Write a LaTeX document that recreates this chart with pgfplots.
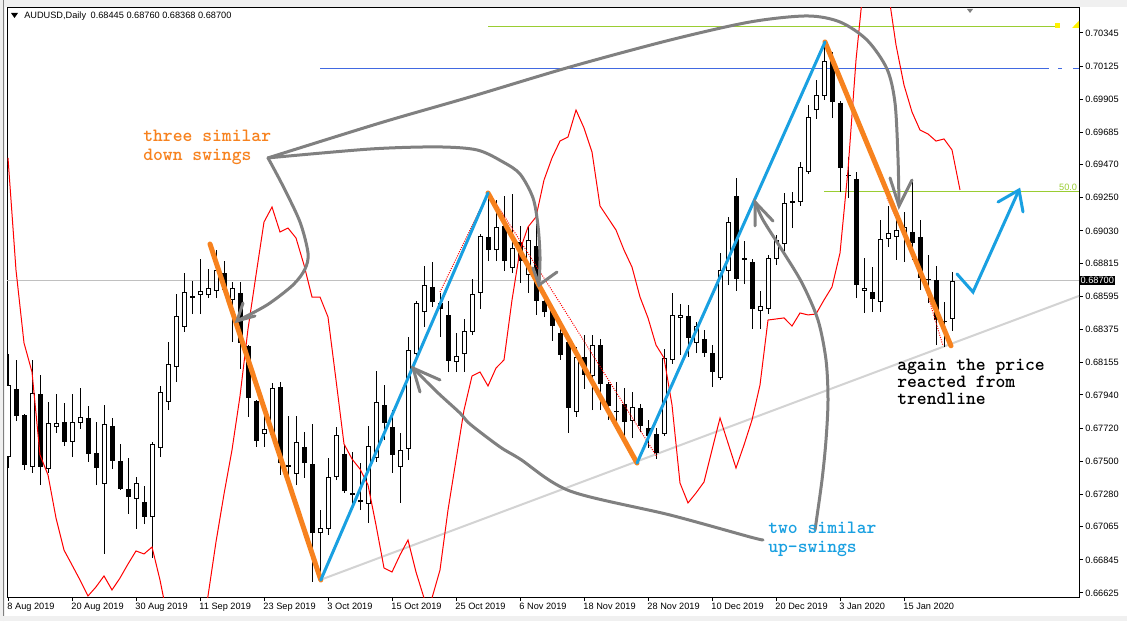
\documentclass[border=0pt]{standalone}
\usepackage{fontspec}
\setmainfont{Liberation Sans}
\usepackage{pgfplots}
\usepackage{pgfplotstable}
\pgfplotsset{compat=1.18}

\definecolor{swingorange}{RGB}{247,130,30}
\definecolor{swingblue}{RGB}{25,160,225}
\definecolor{arrowgray}{RGB}{128,128,128}
\definecolor{lvlgreen}{RGB}{154,205,50}
\definecolor{lvlblue}{RGB}{65,105,225}
\definecolor{trendgray}{RGB}{211,211,211}
\definecolor{pricegray}{RGB}{192,192,192}
\definecolor{chrome}{RGB}{240,240,240}

% daily candles AUDUSD, index 0 = 8 Aug 2019
\pgfplotstableread{
i o h l c
0 0.67528 0.68212 0.67455 0.68007
1 0.67980 0.68173 0.67767 0.67801
2 0.67807 0.67814 0.67442 0.67475
3 0.67462 0.68173 0.67422 0.67953
4 0.67947 0.68073 0.67342 0.67462
5 0.67448 0.67894 0.67422 0.67754
6 0.67727 0.67947 0.67688 0.67754
7 0.67761 0.67887 0.67601 0.67628
8 0.67628 0.67947 0.67528 0.67761
9 0.67754 0.67987 0.67714 0.67794
10 0.67787 0.67867 0.67495 0.67548
11 0.67555 0.67761 0.67342 0.67455
12 0.67349 0.67874 0.66884 0.67747
13 0.67734 0.67787 0.67448 0.67502
14 0.67502 0.67615 0.67309 0.67316
15 0.67316 0.67522 0.67150 0.67262
16 0.67249 0.67395 0.67050 0.67356
17 0.67229 0.67336 0.67083 0.67130
18 0.67130 0.67628 0.66857 0.67615
19 0.67588 0.68000 0.67528 0.67960
20 0.67894 0.68292 0.67840 0.68146
21 0.68126 0.68611 0.68026 0.68465
22 0.68392 0.68750 0.68359 0.68624
23 0.68584 0.68697 0.68478 0.68598
24 0.68604 0.68844 0.68478 0.68631
25 0.68604 0.68777 0.68584 0.68651
26 0.68631 0.68903 0.68584 0.68770
27 0.68750 0.68830 0.68624 0.68638
28 0.68571 0.68691 0.68292 0.68651
29 0.68618 0.68691 0.68113 0.68286
30 0.68266 0.68272 0.67794 0.67920
31 0.67900 0.67905 0.67595 0.67635
32 0.67681 0.67807 0.67595 0.67714
33 0.67674 0.68020 0.67641 0.67987
34 0.67993 0.68026 0.67409 0.67488
35 0.67475 0.67801 0.67409 0.67462
36 0.67415 0.67801 0.67342 0.67628
37 0.67595 0.67694 0.67389 0.67488
38 0.67482 0.67747 0.66698 0.67023
39 0.67023 0.67176 0.66698 0.67057
40 0.67050 0.67522 0.67010 0.67395
41 0.67395 0.67727 0.67375 0.67674
42 0.67548 0.67608 0.67289 0.67302
43 0.67289 0.67561 0.67209 0.67276
44 0.67243 0.67488 0.67176 0.67229
45 0.67216 0.67734 0.67090 0.67601
46 0.67522 0.68100 0.67495 0.67894
47 0.67874 0.68007 0.67641 0.67754
48 0.67727 0.67840 0.67422 0.67542
49 0.67462 0.67688 0.67223 0.67575
50 0.67581 0.68325 0.67508 0.68239
51 0.68212 0.68565 0.68173 0.68551
52 0.68491 0.68797 0.68392 0.68671
53 0.68658 0.68824 0.68525 0.68558
54 0.68551 0.68618 0.68325 0.68511
55 0.68472 0.68565 0.68093 0.68166
56 0.68159 0.68352 0.68093 0.68199
57 0.68212 0.68445 0.68093 0.68365
58 0.68359 0.68711 0.68339 0.68611
59 0.68618 0.69010 0.68511 0.68996
60 0.68990 0.69269 0.68830 0.68903
61 0.68903 0.69235 0.68830 0.69056
62 0.69063 0.69262 0.68764 0.68830
63 0.68784 0.69275 0.68750 0.68917
64 0.68956 0.69063 0.68684 0.68830
65 0.68737 0.69063 0.68618 0.68970
66 0.68930 0.69116 0.68472 0.68565
67 0.68565 0.68631 0.68458 0.68491
68 0.68498 0.68538 0.68299 0.68398
69 0.68352 0.68392 0.68173 0.68206
70 0.68292 0.68345 0.67688 0.67854
71 0.67827 0.68259 0.67794 0.68193
72 0.68193 0.68339 0.67980 0.68073
73 0.68066 0.68339 0.67840 0.68272
74 0.68272 0.68312 0.67840 0.68013
75 0.68013 0.68026 0.67774 0.67867
76 0.67834 0.68026 0.67734 0.67827
77 0.67880 0.67987 0.67668 0.67761
78 0.67767 0.67960 0.67654 0.67860
79 0.67854 0.67880 0.67694 0.67734
80 0.67721 0.67774 0.67588 0.67668
81 0.67681 0.67721 0.67515 0.67555
82 0.67681 0.68246 0.67668 0.68186
83 0.68173 0.68618 0.68146 0.68472
84 0.68452 0.68545 0.68206 0.68472
85 0.68465 0.68538 0.68193 0.68319
86 0.68286 0.68425 0.68219 0.68398
87 0.68312 0.68372 0.68193 0.68219
88 0.68219 0.68272 0.67993 0.68093
89 0.68053 0.68883 0.68040 0.68770
90 0.68764 0.69123 0.68671 0.69089
91 0.69262 0.69382 0.68631 0.68711
92 0.68837 0.68963 0.68677 0.68850
93 0.68824 0.68844 0.68378 0.68511
94 0.68498 0.68631 0.68378 0.68531
95 0.68511 0.68870 0.68478 0.68850
96 0.68844 0.69003 0.68804 0.68970
97 0.68943 0.69282 0.68897 0.69216
98 0.69216 0.69289 0.69049 0.69229
99 0.69222 0.69488 0.69196 0.69455
100 0.69421 0.69867 0.69408 0.69787
101 0.69833 0.70033 0.69774 0.69933
102 0.69926 0.70298 0.69900 0.70159
103 0.70165 0.70219 0.69780 0.69886
104 0.69880 0.69893 0.69289 0.69448
105 0.69402 0.69521 0.69249 0.69395
106 0.69375 0.69421 0.68584 0.68671
107 0.68631 0.68850 0.68485 0.68651
108 0.68624 0.68790 0.68491 0.68578
109 0.68558 0.69103 0.68491 0.68976
110 0.68976 0.69196 0.68923 0.69016
111 0.68990 0.69156 0.68837 0.69036
112 0.69010 0.69156 0.68824 0.69056
113 0.69023 0.69355 0.68837 0.68950
114 0.68990 0.69103 0.68638 0.68717
115 0.68711 0.68870 0.68551 0.68704
116 0.68704 0.68797 0.68272 0.68438
117 0.68432 0.68558 0.68259 0.68425
118 0.68445 0.68760 0.68368 0.68700
}\candles

% red band, pieces that stay on screen
\pgfplotstableread{
i p
0 0.69515
1 0.68770
2 0.68286
3 0.68093
4 0.67542
5 0.67409
6 0.67123
7 0.66910
8 0.66811
9 0.66711
10 0.66605
11 0.66665
12 0.66738
13 0.66645
14 0.66724
15 0.66817
16 0.66904
17 0.66884
18 0.66930
19 0.66711
20 0.66445
}\bandA

\pgfplotstableread{
i p
24 0.66313
25 0.66605
26 0.66964
27 0.67282
28 0.67575
29 0.67933
30 0.68378
31 0.68737
32 0.69089
33 0.69189
34 0.69023
35 0.69049
36 0.68983
37 0.68804
38 0.68591
39 0.68591
40 0.68458
41 0.68040
42 0.67615
43 0.67515
44 0.67448
45 0.67342
46 0.67076
47 0.66791
48 0.66764
49 0.66877
50 0.66977
51 0.66764
52 0.66592
53 0.66313
}\bandB

\pgfplotstableread{
i p
52 0.66313
53 0.66592
54 0.66778
55 0.67176
56 0.67508
57 0.67840
58 0.68066
59 0.68093
60 0.68000
61 0.68119
62 0.68173
63 0.68571
64 0.68903
65 0.69056
66 0.69123
67 0.69368
68 0.69515
69 0.69627
70 0.69654
71 0.69833
72 0.69714
73 0.69554
74 0.69196
75 0.69116
76 0.69036
77 0.68903
78 0.68790
79 0.68591
80 0.68452
81 0.68272
82 0.68186
83 0.67874
84 0.67355
85 0.67223
86 0.67289
87 0.67362
88 0.67575
89 0.67787
90 0.67621
91 0.67455
92 0.67608
93 0.67774
94 0.68007
95 0.68438
96 0.68445
97 0.68452
98 0.68398
99 0.68485
100 0.68472
101 0.68478
102 0.68571
103 0.68658
104 0.68883
105 0.69435
106 0.70165
107 0.70697
}\bandC

\pgfplotstableread{
i p
110 0.70630
111 0.70265
112 0.69999
113 0.69820
114 0.69700
115 0.69674
116 0.69627
117 0.69641
118 0.69568
119 0.69302
}\bandD

\tikzset{note/.style={anchor=base west, inner sep=0pt, font=\fontsize{14.05}{15}\ttfamily\bfseries}}

\begin{document}
\begin{tikzpicture}
\path[use as bounding box, fill=white] (0,0) rectangle (845.25pt,465.75pt);
% terminal window rim
\fill[chrome] (0,460.5pt) rectangle (845.25pt,465.75pt);
\fill[chrome] (0,0) rectangle (3.75pt,465.75pt);
\draw[gray, line width=0.75pt] (2.25pt,0) -- (2.25pt,465.75pt);
\fill[chrome] (0,0) rectangle (845.25pt,3.75pt);

\begin{axis}[
  at={(5.25pt,18pt)}, anchor=south west,
  scale only axis, width=804pt, height=441.75pt,
  xmin=-0.125, xmax=133.875, ymin=0.665981, ymax=0.705109,
  clip mode=individual,
  axis line style={black, line width=0.75pt},
  tick style={black, line width=0.75pt},
  tick align=outside, major tick length=3pt,
  xtick pos=bottom, ytick pos=right,
  scaled y ticks=false,
  tick label style={font=\fontsize{6.9}{8}\selectfont, inner sep=0pt},
  xtick={0,8,16,24,32,40,48,56,64,72,80,88,96,104,112},
  xticklabels={8 Aug 2019,20 Aug 2019,30 Aug 2019,11 Sep 2019,23 Sep 2019,3 Oct 2019,15 Oct 2019,25 Oct 2019,6 Nov 2019,18 Nov 2019,28 Nov 2019,10 Dec 2019,20 Dec 2019,3 Jan 2020,15 Jan 2020},
  xticklabel style={anchor=north west, xshift=-0.6pt, yshift=-1pt},
  ytick={0.70345,0.70125,0.69905,0.69685,0.69470,0.69250,0.69030,0.68815,0.68595,0.68375,0.68155,0.67940,0.67720,0.67500,0.67280,0.67065,0.66845,0.66625},
  yticklabels={0.70345,0.70125,0.69905,0.69685,0.69470,0.69250,0.69030,0.68815,0.68595,0.68375,0.68155,0.67940,0.67720,0.67500,0.67280,0.67065,0.66845,0.66625},
  yticklabel style={anchor=west, xshift=1.6pt},
]
% level lines
\addplot[pricegray, line width=0.75pt] coordinates {(-0.125,0.68700) (133.875,0.68700)};
\addplot[lvlgreen, line width=0.75pt] coordinates {(60,0.70388) (131,0.70388)};
\addplot[lvlblue, line width=0.75pt] coordinates {(39,0.70112) (130.125,0.70112)};
\addplot[lvlblue, line width=0.75pt] coordinates {(131.25,0.70112) (131.75,0.70112)};
\addplot[lvlblue, line width=0.75pt] coordinates {(133.125,0.70112) (133.875,0.70112)};
\addplot[lvlgreen, line width=0.75pt] coordinates {(102,0.69289) (133.875,0.69289)};
\addplot[fill=yellow, draw=none] coordinates {(130.875,0.70378) (131.5,0.70378) (131.5,0.70411) (130.875,0.70411)} -- cycle;
\addplot[fill=yellow, draw=none] coordinates {(133.0,0.70378) (133.875,0.70378) (133.875,0.70425)} -- cycle;
% trend line
\addplot[trendgray, line width=1.5pt] coordinates {(39,0.66711) (133.875,0.68598)};

% candles: wicks, bodies, hollow centres of up days
\addplot[draw=none, mark=none, forget plot,
  error bars/.cd, y dir=plus, y explicit, error mark=none,
  error bar style={draw=black, solid, line width=0.75pt}]
  table[x=i, y=l, y error expr=\thisrow{h}-\thisrow{l}] {\candles};
\addplot[draw=none, mark=none, forget plot,
  error bars/.cd, y dir=plus, y explicit, error mark=none,
  error bar style={draw=black, solid, line width=3.75pt}]
  table[x=i, y expr={min(\thisrow{o},\thisrow{c})},
        y error expr={max(abs(\thisrow{c}-\thisrow{o}),0.00007)}] {\candles};
\addplot[draw=none, mark=none, forget plot,
  error bars/.cd, y dir=plus, y explicit, error mark=none,
  error bar style={draw=white, solid, line width=2.25pt}]
  table[x=i, y expr={\thisrow{o}+0.00007},
        y error expr={max(\thisrow{c}-\thisrow{o}-0.00014,0)}] {\candles};

% red bands
\addplot[red, line width=0.75pt] table[x=i, y=p] {\bandA};
\addplot[red, line width=0.75pt] table[x=i, y=p] {\bandB};
\addplot[red, line width=0.75pt] table[x=i, y=p] {\bandC};
\addplot[red, line width=0.75pt] table[x=i, y=p] {\bandD};

% dotted zigzag
\addplot[red, line width=0.75pt, densely dotted] coordinates {(54,0.68624) (59.875,0.69269)};
\addplot[red, line width=0.75pt, densely dotted] coordinates {(60.5,0.69255) (69,0.68551) (81.125,0.67528)};
\addplot[red, line width=0.75pt, densely dotted] coordinates {(109.875,0.69249) (114,0.68777) (116.875,0.68266)};

% swings
\addplot[swingorange, line width=3.75pt, line cap=round] coordinates {(25.25,0.68943) (39.1,0.66711)};
\addplot[swingorange, line width=3.75pt, line cap=round] coordinates {(60,0.69282) (78.625,0.67488)};
\addplot[swingorange, line width=3.75pt, line cap=round] coordinates {(102.125,0.70285) (117.875,0.68266)};
\addplot[swingblue, line width=2.25pt, line cap=round] coordinates {(39.1,0.66711) (60,0.69282)};
\addplot[swingblue, line width=2.25pt, line cap=round] coordinates {(78.625,0.67488) (102.125,0.70285)};
\addplot[swingblue, line width=2.25pt, line cap=round] coordinates {(118.625,0.68744) (120.625,0.68624) (126.375,0.69302)};
\addplot[swingblue, line width=2.25pt, line cap=round] coordinates {(123.75,0.69222) (126.375,0.69302) (126.875,0.69156)};

% grey connectors
\addplot[arrowgray, line width=2.25pt, smooth, line cap=round] coordinates {(32.5,0.69515) (34.375,0.69328) (36.5,0.69089) (37.5,0.68883) (37.125,0.68777) (35.625,0.68671) (32.375,0.68538) (28.625,0.68432)};
\addplot[arrowgray, line width=2.25pt, line cap=round] coordinates {(29.375,0.68551) (28.625,0.68432) (30.875,0.68465)};
\addplot[arrowgray, line width=2.25pt, smooth, line cap=round] coordinates {(32.5,0.69515) (45.25,0.69574) (53.625,0.69588) (58.625,0.69568) (61.875,0.69488) (64,0.69408) (65.625,0.69249) (66.25,0.69063) (66.5,0.68857) (66.375,0.68671)};
\addplot[arrowgray, line width=2.25pt, line cap=round] coordinates {(68.625,0.68757) (66.375,0.68671) (65.625,0.68784)};
\addplot[arrowgray, line width=2.25pt, smooth, line cap=round] coordinates {(32.5,0.69515) (46.5,0.69747) (57.75,0.69920) (70.25,0.70119) (82.75,0.70298) (92.75,0.70418) (99.875,0.70458) (104,0.70418) (107.375,0.70298) (109.875,0.70106) (110.875,0.69880) (111.25,0.69515) (111.375,0.69196)};
\addplot[arrowgray, line width=2.25pt, line cap=round] coordinates {(110.25,0.69382) (111.375,0.69196) (113,0.69368)};
\addplot[arrowgray, line width=2.25pt, smooth, line cap=round] coordinates {(94.375,0.66977) (92.75,0.66997) (82.75,0.67143) (70.25,0.67302) (64,0.67515) (61.5,0.67595) (57.75,0.67747) (56.5,0.67820) (53.625,0.67960) (50.625,0.68119)};
\addplot[arrowgray, line width=2.25pt, line cap=round] coordinates {(54,0.68040) (50.625,0.68119) (51.5,0.67960)};
\addplot[arrowgray, line width=2.25pt, smooth, line cap=round] coordinates {(100.875,0.67043) (101.75,0.67375) (102.25,0.67641) (102.5,0.67907) (102.25,0.68173) (101.25,0.68438) (99.25,0.68684) (96.75,0.68903) (94.375,0.69103) (93.375,0.69222)};
\addplot[arrowgray, line width=2.25pt, line cap=round] coordinates {(95.625,0.69096) (93.375,0.69222) (93.375,0.69063)};

% texts
\node[note, text=swingorange] at (axis cs:16.875,0.69621) {three similar};
\node[note, text=swingorange] at (axis cs:16.875,0.69501) {down swings};
\node[note, text=swingblue] at (axis cs:95,0.67017) {two similar};
\node[note, text=swingblue] at (axis cs:95,0.66897) {up-swings};
\node[note] at (axis cs:111.125,0.68106) {again the price};
\node[note] at (axis cs:111.125,0.67993) {reacted from};
\node[note] at (axis cs:111.125,0.67874) {trendline};
\node[anchor=south east, inner sep=0.8pt, font=\fontsize{6.9}{8}\selectfont, text=lvlgreen] at (axis cs:133.8,0.69289) {50.0};
\node[anchor=west, fill=black, text=white, inner xsep=1pt, inner ysep=1.2pt, font=\fontsize{6.9}{8}\selectfont] at (axis cs:133.875,0.68700) {0.68700};
\end{axis}

% header and small marks of the terminal
\fill[black] (8.25pt,456pt) -- (13.5pt,456pt) -- (10.875pt,452.25pt) -- cycle;
\node[anchor=west, inner sep=0pt, font=\fontsize{6.9}{8}\selectfont] at (18pt,453.75pt) {AUDUSD,Daily\enspace 0.68445 0.68760 0.68368 0.68700};
\fill[gray] (725.25pt,459pt) -- (729.75pt,459pt) -- (727.5pt,456pt) -- cycle;
\end{tikzpicture}
\end{document}
